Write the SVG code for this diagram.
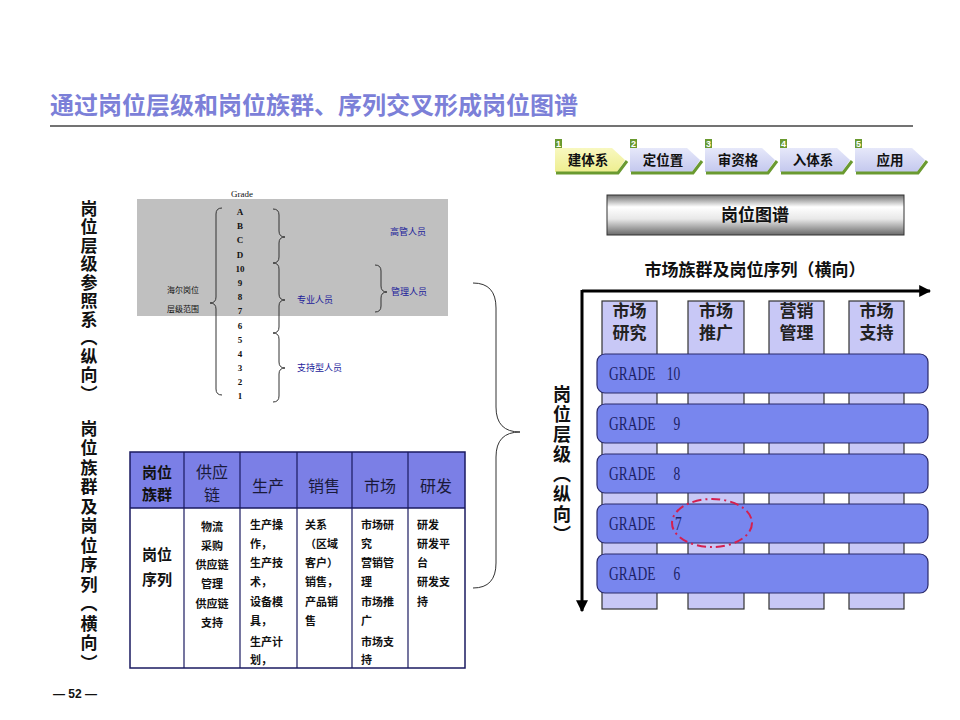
<svg xmlns="http://www.w3.org/2000/svg" width="960" height="720" viewBox="0 0 960 720">
<defs>
<style>
.sans{font-family:"Liberation Sans","Noto Sans CJK SC",sans-serif}
.cjk{font-family:"Noto Sans CJK SC","Liberation Sans",sans-serif}
.serif{font-family:"Liberation Serif","Noto Sans CJK SC",serif}
.vt{writing-mode:vertical-rl;font-family:"Noto Sans CJK SC",sans-serif;font-weight:bold;font-size:17px;letter-spacing:1.5px;fill:#111}
.chev-t{font-family:"Noto Sans CJK SC",sans-serif;font-weight:bold;font-size:13.5px;fill:#111;text-anchor:middle}
.num{font-family:"Liberation Sans",sans-serif;font-weight:bold;font-size:9px;fill:#fff;text-anchor:middle}
.brace{fill:none;stroke:#333;stroke-width:1}
.grd{font-family:"Liberation Serif",serif;font-size:9px;font-weight:bold;fill:#111;text-anchor:middle}
.blue{font-family:"Noto Sans CJK SC",sans-serif;font-size:9px;fill:#1a1a9a}
.th{font-family:"Noto Sans CJK SC",sans-serif;font-size:16px;fill:#1a1a3a;text-anchor:middle}
.tb{font-family:"Noto Sans CJK SC",sans-serif;font-size:11px;font-weight:bold;fill:#111}
.col{fill:#c8c8f6;stroke:#333;stroke-width:1.2}
.bar{fill:#7886ee;stroke:#2a2a6a;stroke-width:1.2}
.gtxt{font-family:"Liberation Serif",serif;font-size:18px;fill:#1c2266}
.clab{font-family:"Noto Sans CJK SC",sans-serif;font-weight:bold;font-size:17px;fill:#222;text-anchor:middle}
</style>
<linearGradient id="metal" x1="0" y1="0" x2="0" y2="1">
<stop offset="0" stop-color="#6e6e6e"/>
<stop offset="0.3" stop-color="#ffffff"/>
<stop offset="0.6" stop-color="#e8e8e8"/>
<stop offset="1" stop-color="#6a6a6a"/>
</linearGradient>
<linearGradient id="chevY" x1="0" y1="0" x2="0" y2="1">
<stop offset="0" stop-color="#f8f8c0"/>
<stop offset="1" stop-color="#eeee90"/>
</linearGradient>
<linearGradient id="chevB" x1="0" y1="0" x2="0" y2="1">
<stop offset="0" stop-color="#e6e8fa"/>
<stop offset="1" stop-color="#c4c8ee"/>
</linearGradient>
<marker id="arr" viewBox="0 0 10 10" refX="9" refY="5" markerWidth="4" markerHeight="4" orient="auto">
<path d="M0,0 L10,5 L0,10 z" fill="#000"/>
</marker>
</defs>
<rect width="960" height="720" fill="#fff"/>

<g id="title">
<text x="50" y="114" class="cjk" font-size="24" font-weight="bold" fill="#7c80d8">通过岗位层级和岗位族群、序列交叉形成岗位图谱</text>
<line x1="50" y1="126" x2="913" y2="126" stroke="#444" stroke-width="1.5"/>
</g>

<g id="steps">
<g id="step1">
<path d="M555,148 L612,148 L625,160 L617,172 L555,172 z" fill="url(#chevY)"/>
<polyline points="556,173 618,173 627,161" fill="none" stroke="#6a9a30" stroke-width="3"/>
<rect x="555" y="139" width="7" height="9" fill="#6a9a30"/><text x="558.5" y="147" class="num">1</text>
<text x="588" y="165" class="chev-t">建体系</text>
</g>
<g id="step2">
<path d="M630,148 L687,148 L700,160 L692,172 L630,172 z" fill="url(#chevB)"/>
<polyline points="631,173 693,173 702,161" fill="none" stroke="#6a9a30" stroke-width="3"/>
<rect x="630" y="139" width="7" height="9" fill="#6a9a30"/><text x="633.5" y="147" class="num">2</text>
<text x="663" y="165" class="chev-t">定位置</text>
</g>
<g id="step3">
<path d="M705,148 L762,148 L775,160 L767,172 L705,172 z" fill="url(#chevB)"/>
<polyline points="706,173 768,173 777,161" fill="none" stroke="#6a9a30" stroke-width="3"/>
<rect x="705" y="139" width="7" height="9" fill="#6a9a30"/><text x="708.5" y="147" class="num">3</text>
<text x="738" y="165" class="chev-t">审资格</text>
</g>
<g id="step4">
<path d="M780,148 L837,148 L850,160 L842,172 L780,172 z" fill="url(#chevB)"/>
<polyline points="781,173 843,173 852,161" fill="none" stroke="#6a9a30" stroke-width="3"/>
<rect x="780" y="139" width="7" height="9" fill="#6a9a30"/><text x="783.5" y="147" class="num">4</text>
<text x="813" y="165" class="chev-t">入体系</text>
</g>
<g id="step5">
<path d="M855,148 L912,148 L925,160 L917,172 L855,172 z" fill="url(#chevB)"/>
<polyline points="856,173 918,173 927,161" fill="none" stroke="#6a9a30" stroke-width="3"/>
<rect x="855" y="139" width="7" height="9" fill="#6a9a30"/><text x="858.5" y="147" class="num">5</text>
<text x="890" y="165" class="chev-t">应用</text>
</g>
</g>

<g id="side-labels">
<text x="89" y="200" class="vt">岗位层级参照系（纵向）</text>
<text x="89" y="420" class="vt" style="letter-spacing:2.5px">岗位族群及岗位序列（横向）</text>
</g>

<g id="grade-ref">
<rect x="137" y="199" width="311" height="117" fill="#c0c0c0"/>
<text x="242" y="197" class="grd" style="font-weight:normal">Grade</text>
<text x="240" y="215" class="grd">A</text>
<text x="240" y="229" class="grd">B</text>
<text x="240" y="243" class="grd">C</text>
<text x="240" y="258" class="grd">D</text>
<text x="240" y="272" class="grd">10</text>
<text x="240" y="286" class="grd">9</text>
<text x="240" y="300" class="grd">8</text>
<text x="240" y="314" class="grd">7</text>
<text x="240" y="329" class="grd">6</text>
<text x="240" y="343" class="grd">5</text>
<text x="240" y="357" class="grd">4</text>
<text x="240" y="371" class="grd">3</text>
<text x="240" y="385" class="grd">2</text>
<text x="240" y="399" class="grd">1</text>
<path class="brace" d="M222,208 Q216,208 216,214 L216,297 Q216,303 210,303 Q216,303 216,309 L216,389 Q216,395 222,395"/>
<path class="brace" d="M273,209 Q279,209 279,215 L279,231 Q279,237 285,237 Q279,237 279,243 L279,257 Q279,263 273,263"/>
<path class="brace" d="M273,263 Q279,263 279,269 L279,294 Q279,300 285,300 Q279,300 279,306 L279,327 Q279,333 273,333"/>
<path class="brace" d="M273,333 Q279,333 279,339 L279,362 Q279,368 285,368 Q279,368 279,374 L279,396 Q279,402 273,402"/>
<path class="brace" d="M375,265 Q381,265 381,271 L381,286 Q381,292 387,292 Q381,292 381,298 L381,306 Q381,312 375,312"/>
<text x="167" y="293" class="cjk" font-size="8" fill="#111">海尔岗位</text>
<text x="167" y="312" class="cjk" font-size="8" fill="#111">层级范围</text>
<text x="390" y="235" class="blue">高管人员</text>
<text x="297" y="303" class="blue">专业人员</text>
<text x="391" y="295" class="blue">管理人员</text>
<text x="297" y="371" class="blue">支持型人员</text>
</g>

<g id="family-table">
<rect x="130" y="452" width="335" height="56" fill="#7b7fe6"/>
<rect x="130" y="452" width="335" height="216" fill="none" stroke="#1a1a60" stroke-width="1.5"/>
<line x1="130" y1="508" x2="465" y2="508" stroke="#1a1a60" stroke-width="1.5"/>
<g stroke="#1a1a60" stroke-width="1.2">
<line x1="184" y1="452" x2="184" y2="668"/>
<line x1="240" y1="452" x2="240" y2="668"/>
<line x1="297" y1="452" x2="297" y2="668"/>
<line x1="352" y1="452" x2="352" y2="668"/>
<line x1="408" y1="452" x2="408" y2="668"/>
</g>
<text x="157" y="478" class="th" style="font-weight:bold;fill:#111;font-size:15px">岗位</text>
<text x="157" y="500" class="th" style="font-weight:bold;fill:#111;font-size:15px">族群</text>
<text x="212" y="478" class="th">供应</text>
<text x="212" y="501" class="th">链</text>
<text x="268" y="492" class="th">生产</text>
<text x="324" y="492" class="th">销售</text>
<text x="380" y="492" class="th">市场</text>
<text x="436" y="492" class="th">研发</text>
<text x="157" y="560" class="th" style="font-weight:bold;fill:#111;font-size:15px">岗位</text>
<text x="157" y="585" class="th" style="font-weight:bold;fill:#111;font-size:15px">序列</text>
<g class="tb" text-anchor="middle">
<text x="212" y="531">物流</text>
<text x="212" y="550">采购</text>
<text x="212" y="569">供应链</text>
<text x="212" y="588">管理</text>
<text x="212" y="608">供应链</text>
<text x="212" y="627">支持</text>
</g>
<g class="tb">
<text x="250" y="529">生产操</text>
<text x="250" y="548">作，</text>
<text x="250" y="567">生产技</text>
<text x="250" y="586">术，</text>
<text x="250" y="606">设备模</text>
<text x="250" y="625">具，</text>
<text x="250" y="646">生产计</text>
<text x="250" y="664">划，</text>
<text x="305" y="529">关系</text>
<text x="305" y="548">（区域</text>
<text x="305" y="567">客户）</text>
<text x="305" y="586">销售，</text>
<text x="305" y="606">产品销</text>
<text x="305" y="625">售</text>
<text x="361" y="529">市场研</text>
<text x="361" y="548">究</text>
<text x="361" y="567">营销管</text>
<text x="361" y="586">理</text>
<text x="361" y="606">市场推</text>
<text x="361" y="625">广</text>
<text x="361" y="646">市场支</text>
<text x="361" y="664">持</text>
<text x="417" y="529">研发</text>
<text x="417" y="548">研发平</text>
<text x="417" y="567">台</text>
<text x="417" y="586">研发支</text>
<text x="417" y="606">持</text>
</g>
</g>

<g id="connectors">
<path class="brace" stroke-width="1.3" d="M473,283 Q496,283 496,308 L496,407 Q496,432 520,432 Q496,432 496,457 L496,563 Q496,588 473,588"/>
<line x1="582" y1="291" x2="930" y2="291" stroke="#000" stroke-width="3" marker-end="url(#arr)"/>
<line x1="582" y1="290" x2="582" y2="611" stroke="#000" stroke-width="3" marker-end="url(#arr)"/>
</g>

<g id="vertical-label">
<text x="562" y="385" class="vt" style="font-size:18px;letter-spacing:2px">岗位层级（纵向）</text>
</g>

<g id="map-title">
<rect x="607" y="195" width="297" height="40" fill="url(#metal)" stroke="#333" stroke-width="1"/>
<text x="755" y="221" class="cjk" font-size="17" font-weight="bold" fill="#111" text-anchor="middle">岗位图谱</text>
</g>

<g id="axis-label">
<text x="755" y="276" class="cjk" font-size="17" font-weight="bold" fill="#111" text-anchor="middle">市场族群及岗位序列（横向）</text>
</g>

<g id="columns">
<rect class="col" x="602" y="301" width="55" height="308"/>
<rect class="col" x="688" y="301" width="56" height="308"/>
<rect class="col" x="769" y="301" width="55" height="308"/>
<rect class="col" x="849" y="301" width="55" height="308"/>
<text x="629.5" y="317" class="clab">市场<tspan x="629.5" dy="22">研究</tspan></text>
<text x="716" y="317" class="clab">市场<tspan x="716" dy="22">推广</tspan></text>
<text x="796.5" y="317" class="clab">营销<tspan x="796.5" dy="22">管理</tspan></text>
<text x="876.5" y="317" class="clab">市场<tspan x="876.5" dy="22">支持</tspan></text>
</g>

<g id="grades">
<g id="grade10"><rect class="bar" x="597" y="354" width="331" height="39" rx="8"/>
<text class="gtxt" transform="translate(609,380) scale(0.75,1)">GRADE<tspan x="77">10</tspan></text></g>
<g id="grade9"><rect class="bar" x="597" y="404" width="331" height="39" rx="8"/>
<text class="gtxt" transform="translate(609,430) scale(0.75,1)">GRADE<tspan x="86">9</tspan></text></g>
<g id="grade8"><rect class="bar" x="597" y="454" width="331" height="39" rx="8"/>
<text class="gtxt" transform="translate(609,480) scale(0.75,1)">GRADE<tspan x="86">8</tspan></text></g>
<g id="grade7"><rect class="bar" x="597" y="504" width="331" height="39" rx="8"/>
<text class="gtxt" transform="translate(609,530) scale(0.75,1)">GRADE<tspan x="88">7</tspan></text></g>
<g id="grade6"><rect class="bar" x="597" y="554" width="331" height="39" rx="8"/>
<text class="gtxt" transform="translate(609,580) scale(0.75,1)">GRADE<tspan x="86">6</tspan></text></g>
<ellipse cx="712" cy="523" rx="40" ry="24" fill="none" stroke="#d42050" stroke-width="2" stroke-dasharray="9 4 2 4"/>
</g>

<g id="footer">
<text x="75" y="698" class="sans" font-size="12" font-weight="bold" fill="#111" text-anchor="middle">— 52 —</text>
</g>
</svg>
